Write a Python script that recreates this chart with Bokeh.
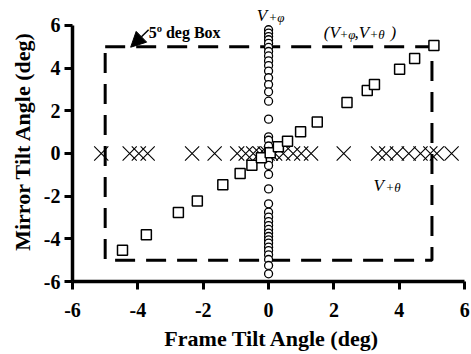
from bokeh.plotting import figure
from bokeh.models import Range1d, FixedTicker, Arrow, NormalHead
from bokeh.core.properties import value
from bokeh.embed import file_html
from bokeh.resources import INLINE

# (V+phi, V+theta): frame tilt vs mirror tilt, both driven
combo_x = [-4.47, -3.74, -2.76, -2.18, -1.40, -0.87, -0.51, -0.22, 0.05, 0.30,
           0.58, 0.98, 1.49, 2.40, 3.02, 3.24, 4.01, 4.47, 5.06]
combo_y = [-4.53, -3.81, -2.77, -2.23, -1.47, -0.94, -0.55, -0.20, 0.04, 0.31,
           0.57, 1.02, 1.47, 2.39, 2.95, 3.23, 3.95, 4.45, 5.06]

# V+phi only: mirror tilts, frame stays at zero
phi_y = [5.80, 5.64, 5.48, 5.33, 5.16, 4.97, 4.78, 4.57, 4.34, 4.12, 3.86, 3.55,
         3.23, 2.89, 2.45, 1.61, 0.78, 0.62, 0.35, 0.10, -0.15, -0.35,
         -0.56, -0.98, -1.66, -2.36, -2.75, -2.98, -3.19, -3.38, -3.56, -3.73,
         -3.89, -4.05, -4.20, -4.39, -4.55, -4.75, -4.97, -5.25, -5.64]
phi_x = [0.0] * len(phi_y)

# V+theta only: frame tilts, mirror stays at zero
theta_x = [-5.12, -4.25, -3.97, -3.70, -2.34, -1.65, -0.96, -0.70, -0.47, -0.27,
           -0.12, -0.03, 0.07, 0.20, 0.45, 0.75, 1.00, 1.30, 2.30, 3.35, 3.60,
           3.93, 4.29, 4.65, 4.95, 5.15, 5.60]
theta_y = [0.0] * len(theta_x)

# 5 degree limit box
box_x = [-5, 5, 5, -5, -5]
box_y = [5, 5, -5, -5, 5]

ticks = [-6, -4, -2, 0, 2, 4, 6]
tick_labels = {t: str(t) for t in ticks}

SERIF = value("Liberation Serif")

p = figure(width=471, height=354, output_backend="svg", toolbar_location=None,
           x_range=Range1d(-6, 6.21), y_range=Range1d(-6, 7.17),
           min_border_left=72, min_border_right=0, min_border_top=0,
           min_border_bottom=73)
p.outline_line_color = None
p.grid.visible = False
p.background_fill_color = "white"
p.border_fill_color = "white"

for ax in (p.xaxis[0], p.yaxis[0]):
    ax.bounds = (-6, 6)
    ax.ticker = FixedTicker(ticks=ticks)
    ax.major_label_overrides = tick_labels
    ax.axis_line_width = 3.5
    ax.axis_line_color = "black"
    ax.major_tick_line_width = 3
    ax.major_tick_line_color = "black"
    ax.major_tick_out = 8
    ax.major_tick_in = 0
    ax.minor_tick_line_color = None
    ax.major_label_text_font = "Liberation Serif"
    ax.major_label_text_font_style = "bold"
    ax.major_label_text_font_size = "20px"
    ax.major_label_text_color = "black"
    ax.axis_label_text_font = "Liberation Serif"
    ax.axis_label_text_font_style = "bold"
    ax.axis_label_text_font_size = "22px"
    ax.axis_label_text_color = "black"

p.xaxis.axis_label = "Frame Tilt Angle (deg)"
p.yaxis.axis_label = "Mirror Tilt Angle (deg)"
p.xaxis.major_label_standoff = 13
p.yaxis.major_label_standoff = 4
p.xaxis.axis_label_standoff = 6
p.yaxis.axis_label_standoff = 6

# limit box
p.line(box_x, box_y, line_color="black", line_width=3, line_dash="20 11")

# series
p.scatter(theta_x, theta_y, marker="x", size=20, line_color="black", line_width=1.1)
p.scatter(phi_x, phi_y, marker="circle", size=8, line_color="black",
          fill_color="white", line_width=1.3)
p.scatter(combo_x, combo_y, marker="square", size=10, line_color="black",
          fill_color="white", line_width=1.5)

# box callout
p.add_layout(Arrow(end=NormalHead(size=15, fill_color="black", line_color="black"),
                   x_start=-3.67, y_start=5.80, x_end=-4.22, y_end=4.98,
                   line_width=1.5, line_color="black"))
p.text(x=[-3.67], y=[5.68], text=["5º deg Box"], text_font=SERIF,
       text_font_style="bold", text_font_size="16px", text_baseline="alphabetic",
       text_color="black")

# series labels (italic with subscripts)
def label(x, y, txt, size):
    p.text(x=[x], y=[y], text=[txt], text_font=SERIF, text_font_style="italic",
           text_font_size=size, text_baseline="alphabetic", text_color="black")

label(-0.36, 6.47, "V", "17px")
label(0.00, 6.38, "+φ", "13px")

label(1.69, 5.67, "(V", "17px")
label(2.17, 5.58, "+φ", "13px")
label(2.63, 5.67, ",V", "17px")
label(3.09, 5.58, "+θ", "13px")
label(3.73, 5.67, ")", "17px")

label(3.21, -1.50, "V", "17px")
label(3.58, -1.60, "+θ", "13px")

open("out.html", "w").write(file_html(p, INLINE))
